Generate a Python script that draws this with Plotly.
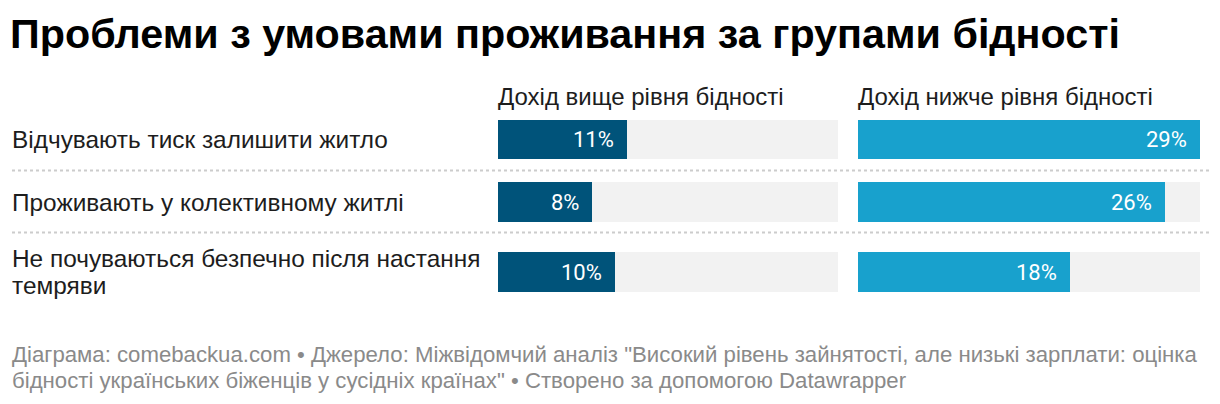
import plotly.graph_objects as go

categories = [
    "Відчувають тиск залишити житло",
    "Проживають у колективному житлі",
    "Не почуваються безпечно після настання<br>темряви",
]
above_poverty = [11, 8, 10]
below_poverty = [29, 26, 18]
column_titles = ["Дохід вище рівня бідності", "Дохід нижче рівня бідності"]
title = "Проблеми з умовами проживання за групами бідності"
footer = ("Діаграма: comebackua.com • Джерело: Міжвідомчий аналіз \"Високий рівень зайнятості, але низькі зарплати: оцінка"
          "<br>бідності українських біженців у сусідніх країнах\" • Створено за допомогою Datawrapper")

# page is offset by the default 8px body margin; work in page pixel coordinates
OFF = 8
PAGE_W, PAGE_H = 1220, 404
W, H = PAGE_W - 2 * OFF, PAGE_H - 2 * OFF


def px(x):
    return (x - OFF) / W


row_y = [139.5, 202, 272]     # row centers (page px)
bar_h = 39.5
sep_y = [170.5, 232.5]
label_line_gap = 26.5
footer_y = 354
footer_gap = 26
x_max = max(above_poverty + below_poverty)

DARK = "#00537a"
LIGHT = "#18a1cd"
TRACK = "#f2f2f2"
LABEL_FONT = "Liberation Sans, Arial, sans-serif"
VALUE_FONT = "Roboto, sans-serif"

fig = go.Figure()

for axis, vals, col in [("x", above_poverty, DARK), ("x2", below_poverty, LIGHT)]:
    fig.add_trace(go.Bar(x=[x_max] * len(vals), y=row_y, orientation="h", width=bar_h,
                         marker=dict(color=TRACK, line=dict(width=0)), xaxis=axis, yaxis="y",
                         hoverinfo="skip", showlegend=False))
    fig.add_trace(go.Bar(x=vals, y=row_y, orientation="h", width=bar_h,
                         marker=dict(color=col, line=dict(width=0)), xaxis=axis, yaxis="y",
                         showlegend=False))
    for v, yy in zip(vals, row_y):
        fig.add_annotation(x=v, y=yy, xref=axis, yref="y", text=f"{v}%", showarrow=False,
                           xanchor="right", yanchor="middle", xshift=-11,
                           font=dict(family=VALUE_FONT, size=22, color="white"))

left_dom = [px(498), px(838)]
right_dom = [px(858), px(1200)]

fig.update_layout(
    width=W, height=H,
    margin=dict(l=0, r=0, t=0, b=0),
    paper_bgcolor="white", plot_bgcolor="white",
    barmode="overlay", bargap=0,
    xaxis=dict(domain=left_dom, range=[0, x_max], visible=False, fixedrange=True),
    xaxis2=dict(domain=right_dom, range=[0, x_max], visible=False, anchor="y", fixedrange=True),
    yaxis=dict(domain=[0, 1], range=[OFF + H, OFF], visible=False, fixedrange=True),
)

# column titles
for dom, t in zip([left_dom, right_dom], column_titles):
    fig.add_annotation(x=dom[0], y=96, xref="paper", yref="y", text=t, showarrow=False,
                       xanchor="left", yanchor="middle", xshift=-2,
                       font=dict(family=LABEL_FONT, size=24, color="#1d1d1d"))

# row labels (multi-line labels laid out line by line)
for c, yy in zip(categories, row_y):
    lines = c.split("<br>")
    first = yy - label_line_gap * (len(lines) - 1) / 2
    for i, ln in enumerate(lines):
        fig.add_annotation(x=px(10), y=first + i * label_line_gap, xref="paper", yref="y",
                           text=ln, showarrow=False, xanchor="left", yanchor="middle",
                           font=dict(family=LABEL_FONT, size=24.4, color="#1d1d1d"))

# separators
for sy in sep_y:
    fig.add_shape(type="line", x0=px(12), x1=px(1212), y0=sy, y1=sy, xref="paper", yref="y",
                  line=dict(color="#cccccc", width=2, dash="dot"))

# title
fig.add_annotation(x=px(8), y=34, xref="paper", yref="y", text=f"<b>{title}</b>", showarrow=False,
                   xanchor="left", yanchor="middle",
                   font=dict(family=LABEL_FONT, size=41.3, color="#000000"))

# footer
for i, ln in enumerate(footer.split("<br>")):
    fig.add_annotation(x=px(10), y=footer_y + i * footer_gap, xref="paper", yref="y", text=ln,
                       showarrow=False, xanchor="left", yanchor="middle",
                       font=dict(family=LABEL_FONT, size=22.2, color="#8a8a8a"))

fig.write_html("out.html")
